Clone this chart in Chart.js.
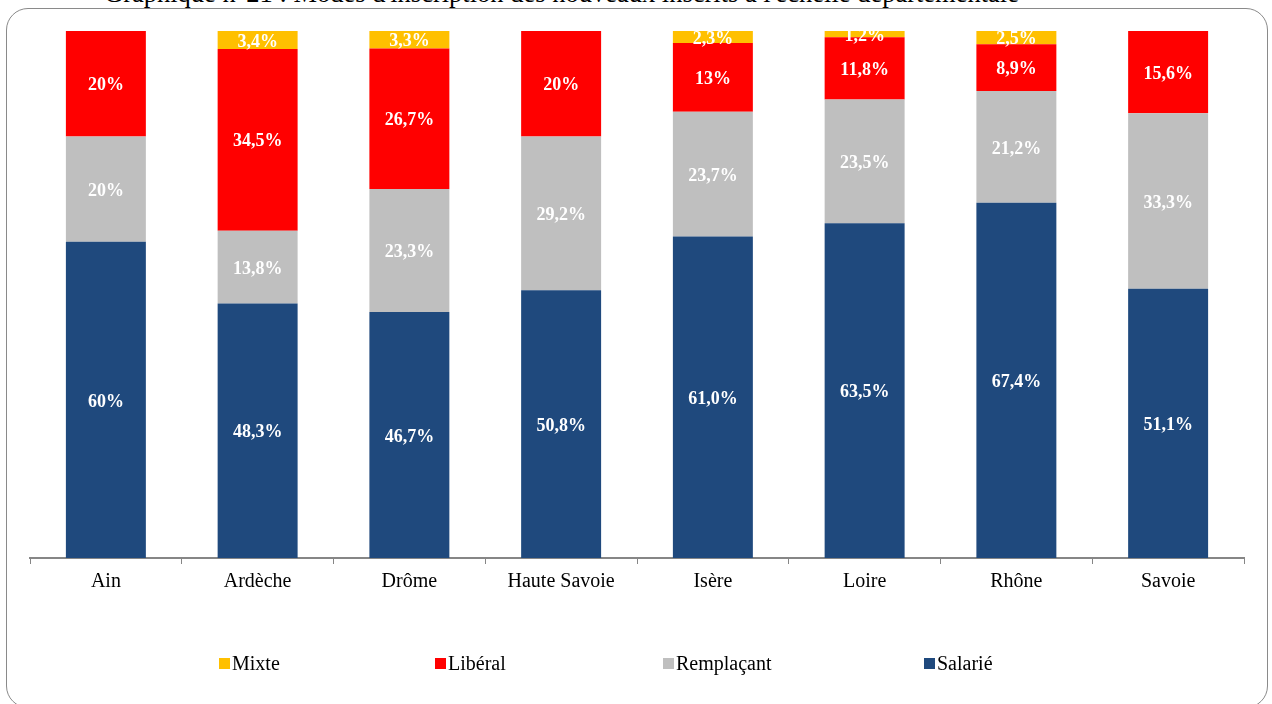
<!DOCTYPE html>
<html lang="fr">
<head>
<meta charset="utf-8">
<title>Modes d'inscription des nouveaux inscrits</title>
<script src="https://cdn.jsdelivr.net/npm/chart.js@4/dist/chart.umd.min.js"></script>
<style>
    html, body { margin: 0; padding: 0; background: #fff; }
    #page { position: relative; width: 1272px; height: 704px; overflow: hidden; font-family: "Liberation Serif", "DejaVu Serif", serif; }
    #titre { position: absolute; left: 55px; top: -23px; font-size: 26.5px; color: #000; white-space: nowrap; }
    #titre .coche { display: inline-block; width: 49px; }
    #cadre { position: absolute; left: 6px; top: 8px; width: 1262px; height: 700px; border: 1.5px solid #8a8a8a; border-radius: 22px; box-sizing: border-box; }
    #canvas { position: absolute; left: 0; top: 0; }
    #legende { position: absolute; left: 0; top: 652px; width: 1272px; height: 26px; }
    #legende .item { position: absolute; top: 0; font-size: 20px; color: #000; white-space: nowrap; }
    #legende .boite { display: inline-block; width: 11px; height: 11px; margin-right: 2px; vertical-align: 1px; }
</style>
</head>
<body>
<div id="page">
    <div id="titre"><span class="coche">✓</span>Graphique n°21 : Modes d'inscription des nouveaux inscrits à l'échelle départementale</div>
    <div id="cadre"></div>
    <canvas id="canvas" width="1272" height="704"></canvas>
    <div id="legende"></div>
</div>
<script>
// Départements
const departements = ['Ain', 'Ardèche', 'Drôme', 'Haute Savoie', 'Isère', 'Loire', 'Rhône', 'Savoie'];

// Parts (%) par mode d'inscription
const salarie    = [60, 48.3, 46.7, 50.8, 61.0, 63.5, 67.4, 51.1];
const remplacant = [20, 13.8, 23.3, 29.2, 23.7, 23.5, 21.2, 33.3];
const liberal    = [20, 34.5, 26.7, 20, 13, 11.8, 8.9, 15.6];
const mixte      = [0, 3.4, 3.3, 0, 2.3, 1.2, 2.5, 0];

// Étiquettes telles qu'affichées sur le graphique
const salarieLabels    = ['60%', '48,3%', '46,7%', '50,8%', '61,0%', '63,5%', '67,4%', '51,1%'];
const remplacantLabels = ['20%', '13,8%', '23,3%', '29,2%', '23,7%', '23,5%', '21,2%', '33,3%'];
const liberalLabels    = ['20%', '34,5%', '26,7%', '20%', '13%', '11,8%', '8,9%', '15,6%'];
const mixteLabels      = ['', '3,4%', '3,3%', '', '2,3%', '1,2%', '2,5%', ''];

const serif = '"Liberation Serif", "DejaVu Serif", serif';

// Plugin maison : écrit la valeur au centre de chaque segment
const etiquettes = {
    id: 'etiquettes',
    afterDatasetsDraw(chart) {
        const ctx = chart.ctx;
        ctx.save();
        ctx.fillStyle = '#fff';
        ctx.font = 'bold 18px ' + serif;
        ctx.textAlign = 'center';
        ctx.textBaseline = 'middle';
        chart.data.datasets.forEach((ds, i) => {
            const meta = chart.getDatasetMeta(i);
            meta.data.forEach((bar, j) => {
                const texte = ds.etiquettes[j];
                if (!texte) return;
                const p = bar.getProps(['x', 'y', 'base'], true);
                ctx.fillText(texte, p.x, (p.y + p.base) / 2 + 2);
            });
        });
        ctx.restore();
    }
};

function createGraph() {
    const data = {
        labels: departements,
        datasets: [
            { label: 'Salarié', data: salarie, etiquettes: salarieLabels, backgroundColor: '#1f497d' },
            { label: 'Remplaçant', data: remplacant, etiquettes: remplacantLabels, backgroundColor: '#bfbfbf' },
            { label: 'Libéral', data: liberal, etiquettes: liberalLabels, backgroundColor: '#ff0000' },
            { label: 'Mixte', data: mixte, etiquettes: mixteLabels, backgroundColor: '#ffc000' }
        ]
    };

    const config = {
        type: 'bar',
        data: data,
        options: {
            responsive: false,
            animation: false,
            devicePixelRatio: 1,
            categoryPercentage: 1,
            barPercentage: 0.527,
            layout: { padding: { left: 30, right: 28, top: 31, bottom: 104 } },
            plugins: {
                legend: { display: false },
                tooltip: { enabled: false }
            },
            scales: {
                x: {
                    stacked: true,
                    border: { display: true, color: '#868686', width: 2 },
                    grid: { display: true, drawOnChartArea: false, offset: true, tickLength: 6, color: '#868686', tickWidth: 1 },
                    ticks: { color: '#000', padding: 6, font: { family: serif, size: 20 } }
                },
                y: {
                    stacked: true,
                    display: false,
                    min: 0,
                    max: 100
                }
            }
        },
        plugins: [etiquettes]
    };

    const chart = new Chart(document.getElementById('canvas'), config);

    // Légende HTML : ordre inversé (Mixte, Libéral, Remplaçant, Salarié)
    const positions = [219, 435, 663, 924];
    const legende = document.getElementById('legende');
    const items = chart.options.plugins.legend.labels.generateLabels(chart).reverse();
    items.forEach((item, k) => {
        const div = document.createElement('div');
        div.className = 'item';
        div.style.left = positions[k] + 'px';
        const boite = document.createElement('span');
        boite.className = 'boite';
        boite.style.background = item.fillStyle;
        div.appendChild(boite);
        div.appendChild(document.createTextNode(item.text));
        legende.appendChild(div);
    });
}

createGraph();
</script>
</body>
</html>
